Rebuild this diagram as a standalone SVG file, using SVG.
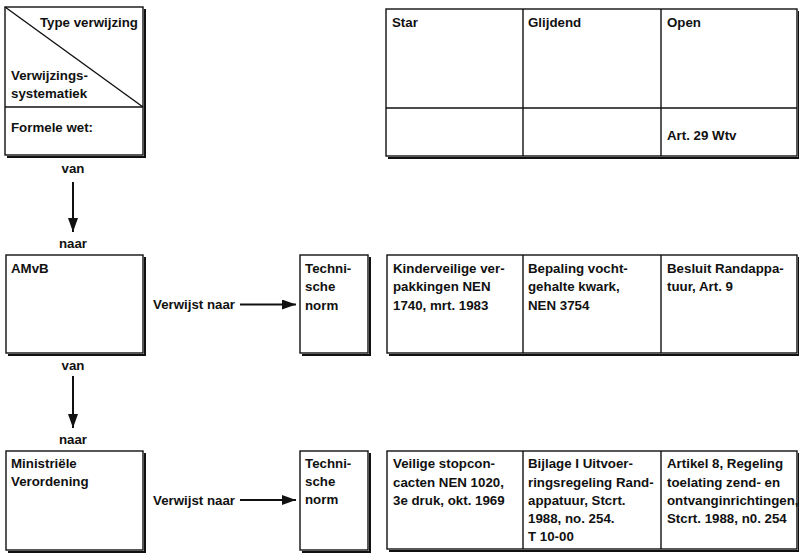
<svg xmlns="http://www.w3.org/2000/svg" width="799" height="557" viewBox="0 0 799 557">
<style>
text{font-family:"Liberation Sans",Arial,sans-serif;font-weight:bold;font-size:13.3px;fill:#111}
.box{fill:#fff;stroke:#111;stroke-width:1.4}
.sh{fill:none;stroke:#111;stroke-width:2}
.ln{stroke:#111;stroke-width:1.4;fill:none}
.mid{text-anchor:middle}
.end{text-anchor:end}
.conn{stroke:#111;stroke-width:2;fill:none}
</style>
<defs>
<marker id="ah" viewBox="0 0 14 10" refX="14" refY="5" markerWidth="14" markerHeight="10" markerUnits="userSpaceOnUse" orient="auto">
<path d="M0,0 L14,5 L0,10 Z" fill="#111"/>
</marker>
</defs>
<rect width="799" height="557" fill="#fff"/>

<g id="header">
<polyline class="sh" points="145,9 145,157 7,157"/>
<rect class="box" x="5" y="7" width="138" height="148"/>
<line class="ln" x1="5" y1="7" x2="143" y2="107"/>
<line class="ln" x1="5" y1="107" x2="143" y2="107"/>
<text class="end" x="138" y="27">Type verwijzing</text>
<text x="11" y="80">Verwijzings-</text>
<text x="11" y="98">systematiek</text>
<text x="11" y="132">Formele wet:</text>
</g>

<g id="table-top">
<polyline class="sh" points="799,11 799,158 388,158"/>
<rect class="box" x="386" y="9" width="411" height="147"/>
<line class="ln" x1="523" y1="9" x2="523" y2="156"/>
<line class="ln" x1="661" y1="9" x2="661" y2="156"/>
<line class="ln" x1="386" y1="108" x2="797" y2="108"/>
<text x="392" y="27">Star</text>
<text x="528" y="27">Glijdend</text>
<text x="667" y="27">Open</text>
<text x="667" y="140">Art. 29 Wtv</text>
</g>

<g id="amvb">
<polyline class="sh" points="145,257 145,355 8,355"/>
<rect class="box" x="6" y="255" width="137" height="98"/>
<text x="11" y="273">AMvB</text>
</g>

<g id="norm-1">
<polyline class="sh" points="370,257 370,355 302,355"/>
<rect class="box" x="300" y="255" width="68" height="98"/>
<text x="305" y="273">Techni-</text>
<text x="305" y="291">sche</text>
<text x="305" y="310">norm</text>
</g>

<g id="table-mid">
<polyline class="sh" points="799,257 799,355 389,355"/>
<rect class="box" x="387" y="255" width="410" height="98"/>
<line class="ln" x1="523" y1="255" x2="523" y2="353"/>
<line class="ln" x1="661" y1="255" x2="661" y2="353"/>
<text x="393" y="273">Kinderveilige ver-</text>
<text x="393" y="291">pakkingen NEN</text>
<text x="393" y="310">1740, mrt. 1983</text>
<text x="528" y="273">Bepaling vocht-</text>
<text x="528" y="291">gehalte kwark,</text>
<text x="528" y="310">NEN 3754</text>
<text x="667" y="273">Besluit Randappa-</text>
<text x="667" y="291">tuur, Art. 9</text>
</g>

<g id="ministeriele">
<polyline class="sh" points="145,453 145,552 8,552"/>
<rect class="box" x="6" y="451" width="137" height="99"/>
<text x="11" y="468">Ministriële</text>
<text x="11" y="486">Verordening</text>
</g>

<g id="norm-2">
<polyline class="sh" points="370,453 370,552 302,552"/>
<rect class="box" x="300" y="451" width="68" height="99"/>
<text x="305" y="468">Techni-</text>
<text x="305" y="486">sche</text>
<text x="305" y="504">norm</text>
</g>

<g id="table-bottom">
<polyline class="sh" points="799,453 799,551 389,551"/>
<rect class="box" x="387" y="451" width="410" height="98"/>
<line class="ln" x1="523" y1="451" x2="523" y2="549"/>
<line class="ln" x1="661" y1="451" x2="661" y2="549"/>
<text x="393" y="468">Veilige stopcon-</text>
<text x="393" y="487">cacten NEN 1020,</text>
<text x="393" y="505">3e druk, okt. 1969</text>
<text x="528" y="468">Bijlage I Uitvoer-</text>
<text x="528" y="487">ringsregeling Rand-</text>
<text x="528" y="505">appatuur, Stcrt.</text>
<text x="528" y="523">1988, no. 254.</text>
<text x="528" y="541">T 10-00</text>
<text x="667" y="468">Artikel 8, Regeling</text>
<text x="667" y="487">toelating zend- en</text>
<text x="667" y="505">ontvanginrichtingen,</text>
<text x="667" y="523">Stcrt. 1988, n0. 254</text>
</g>

<g id="connectors">
<line class="conn" x1="73" y1="182" x2="73" y2="232" marker-end="url(#ah)"/>
<line class="conn" x1="73" y1="376" x2="73" y2="428" marker-end="url(#ah)"/>
<line class="conn" x1="240" y1="304.5" x2="296" y2="304.5" marker-end="url(#ah)"/>
<line class="conn" x1="240" y1="500" x2="296" y2="500" marker-end="url(#ah)"/>
<text class="mid" x="73" y="173">van</text>
<text class="mid" x="73" y="248">naar</text>
<text class="mid" x="73" y="370">van</text>
<text class="mid" x="73" y="444">naar</text>
<text x="153" y="309">Verwijst naar</text>
<text x="153" y="505">Verwijst naar</text>
</g>
</svg>
